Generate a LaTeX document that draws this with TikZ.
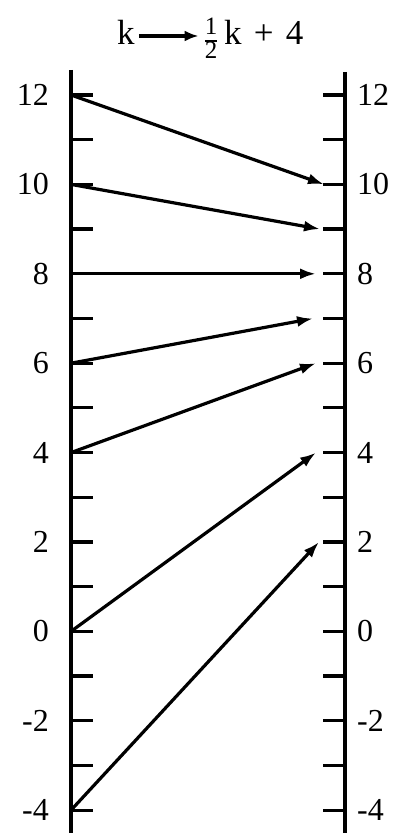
\documentclass[tikz,border=0pt]{standalone}
\usepackage{fontspec}
\setmainfont{Liberation Serif}
\usetikzlibrary{arrows.meta}
\begin{document}
\begin{tikzpicture}[x=1pt,y=1pt,
  axisline/.style={line width=3.6pt},
  tickmark/.style={line width=3.2pt},
  maparrow/.style={line width=3.2pt,-{Latex[length=16pt,width=11pt]}},
  titlearrow/.style={line width=3.2pt,-{Latex[length=14pt,width=11pt]}},
  numlab/.style={font=\fontsize{32}{32}\selectfont, inner sep=0pt},
  titlelab/.style={font=\fontsize{35}{35}\selectfont, inner sep=0pt},
  fraclab/.style={font=\fontsize{25}{25}\selectfont, inner sep=0pt}]
\useasboundingbox (0,0) rectangle (397,833);
% axes
\coordinate (LT) at (71,763);
\coordinate (LB) at (71,0);
\coordinate (RT) at (345,761);
\coordinate (RB) at (345,0);
\draw[axisline] (LT) -- (LB);
\draw[axisline] (RT) -- (RB);
% ticks
\foreach \i in {0,...,16}{
  \pgfmathsetmacro{\yy}{201.6+44.7*(\i-4)}
  \coordinate (l\i) at (71,\yy);
  \coordinate (lt\i) at (93,\yy);
  \coordinate (r\i) at (345,\yy);
  \coordinate (rt\i) at (323,\yy);
  \draw[tickmark] (l\i) -- (lt\i);
  \draw[tickmark] (r\i) -- (rt\i);
}
% labels
\foreach \v in {-4,-2,...,12}{
  \pgfmathsetmacro{\yy}{201.6+44.7*\v}
  \node[numlab, anchor=east] (ln\v) at (49,\yy) {\v};
  \node[numlab, anchor=west] (rn\v) at (357,\yy) {\v};
}
% arrow ends
\foreach \v/\w/\xe in {12/10/324, 10/9/320, 8/8/316, 6/7/313, 4/6/316, 0/4/316, -4/2/319}{
  \pgfmathsetmacro{\ya}{201.6+44.7*\v}
  \pgfmathsetmacro{\yb}{201.6+44.7*\w}
  \coordinate (s\v) at (71,\ya);
  \coordinate (e\v) at (\xe,\yb);
  \draw[maparrow] (s\v) -- (e\v);
}
% title
\node[titlelab, anchor=base west] (tk) at (117,788) {k};
\node[fraclab] (fr) at (211,792) {\setlength{\arrayrulewidth}{1.6pt}\renewcommand{\arraystretch}{0.74}\begin{tabular}{@{}c@{}}1\\\hline 2\end{tabular}};
\node[titlelab, anchor=base west] (tr) at (224,788) {k\hspace{0.35em}+\hspace{0.35em}4};
\coordinate (ta) at ([xshift=4pt,yshift=9pt]tk.base east);
\path (fr.west) ++(-6pt,0) coordinate (tbx);
\coordinate (tb) at (tbx |- ta);
\draw[titlearrow] (ta) -- (tb);
\end{tikzpicture}
\end{document}
